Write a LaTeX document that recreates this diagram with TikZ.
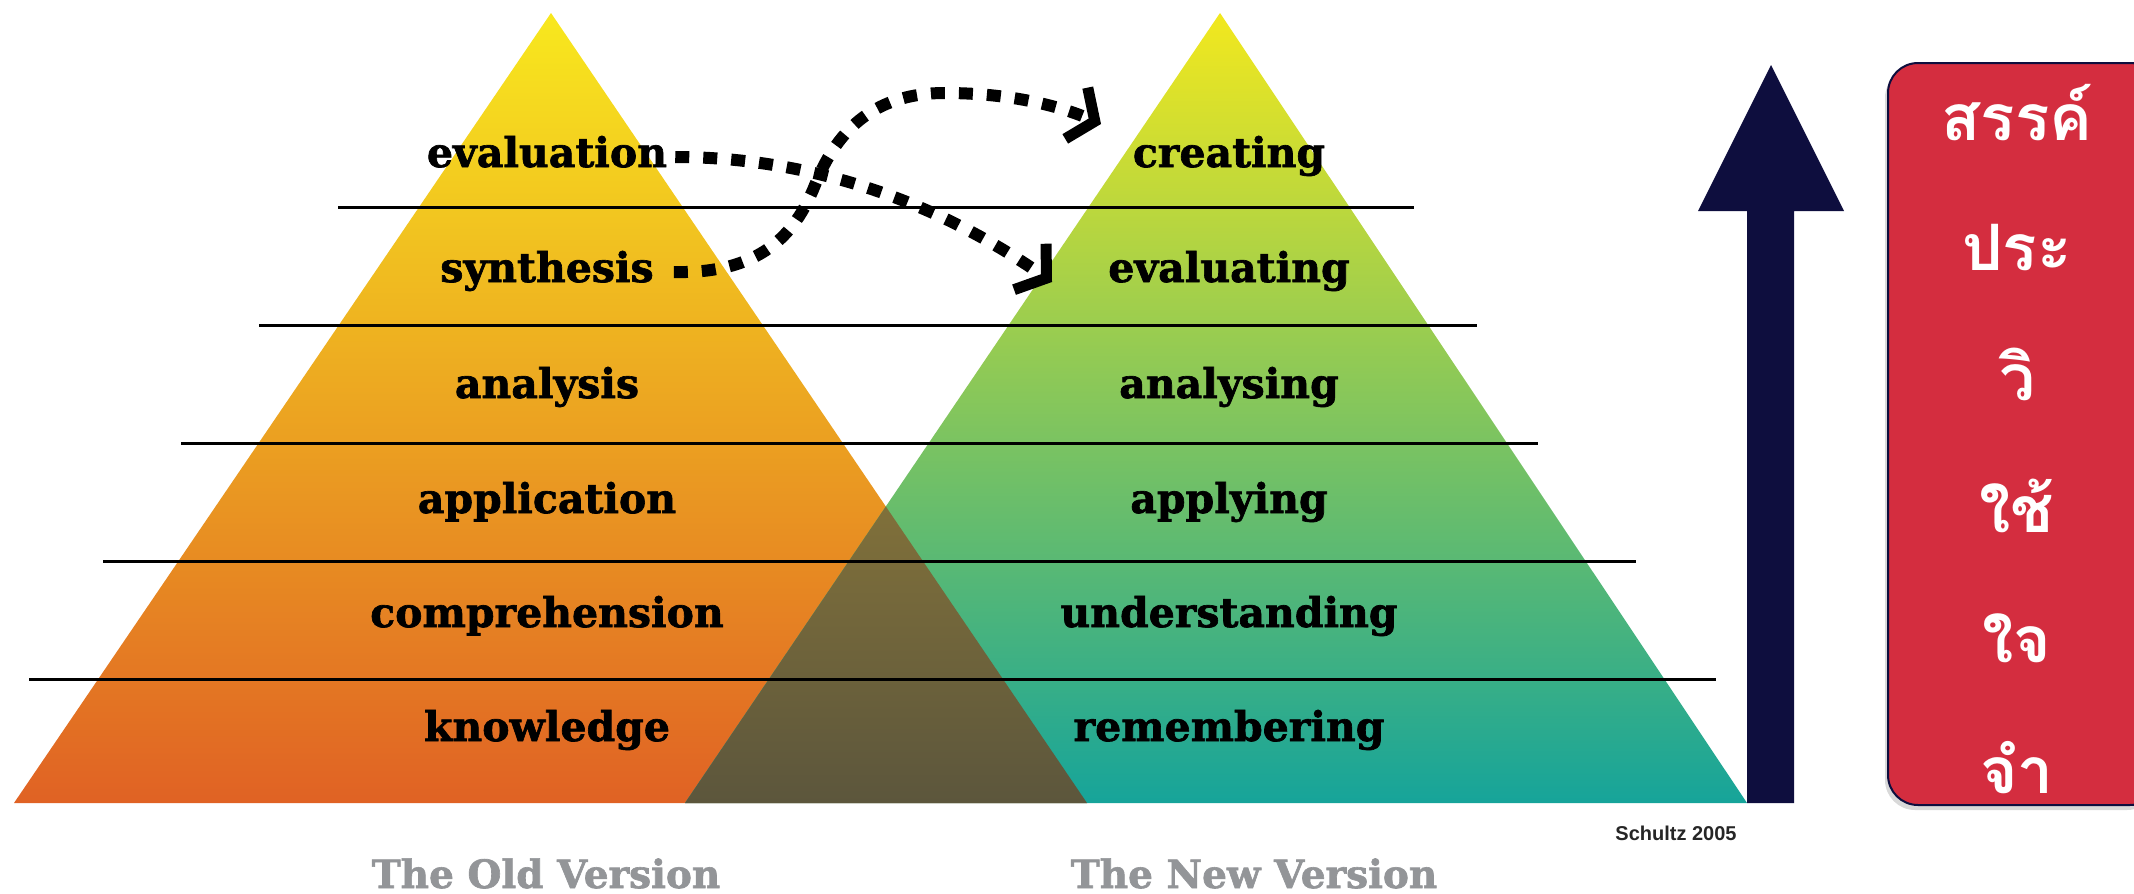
\documentclass[tikz,border=0pt]{standalone}
\usepackage{fontspec}
\usetikzlibrary{arrows.meta,calc,shadows}
\newfontfamily\slabfont[BoldFeatures={FakeBold=1.6}]{DejaVu Serif}
\newfontfamily\thaifont[Script=Thai]{Loma}
\newfontfamily\credfont{Liberation Sans}
\definecolor{oldTop}{RGB}{248,232,30}
\definecolor{oldMid}{RGB}{238,170,40}
\definecolor{oldBot}{RGB}{224,98,36}
\definecolor{newTop}{RGB}{242,232,30}
\definecolor{newMid}{RGB}{160,200,105}
\definecolor{newBot}{RGB}{22,164,154}
\definecolor{ovTop}{RGB}{128,112,58}
\definecolor{ovBot}{RGB}{92,86,60}
\definecolor{navyArrow}{RGB}{14,14,62}
\definecolor{boxRed}{RGB}{212,45,63}
\definecolor{capGrey}{RGB}{147,149,152}
\tikzset{
  hline/.style={line width=3pt, black},
  lbl/.style={font=\slabfont\bfseries\fontsize{41}{48}\selectfont, text=black, anchor=base, inner sep=0pt},
  captionlbl/.style={font=\slabfont\bfseries\fontsize{39}{44}\selectfont, text=capGrey, anchor=base, inner sep=0pt},
  credit/.style={font=\credfont\bfseries\fontsize{20}{24}\selectfont, text=black!85, anchor=base, inner sep=0pt},
  dasharrow/.style={line width=12pt, dash pattern=on 14pt off 14pt, -{Straight Barb[length=20pt,width=56pt,line width=11pt]}},
  thai/.style={font=\thaifont\bfseries\fontsize{64}{70}\selectfont, text=white, anchor=base, inner sep=0pt},
  redbox/.style={fill=boxRed, draw=navyArrow, line width=2pt, rounded corners=30pt,
    drop shadow={shadow xshift=-3pt, shadow yshift=-5pt, opacity=0.3}},
}
\begin{document}
\begin{tikzpicture}[x=1pt,y=-1pt]
\useasboundingbox (0,0) rectangle (2134,894);
% pyramids
\shade[top color=oldTop, middle color=oldMid, bottom color=oldBot] (551,13) -- (1087,803) -- (14,803) -- cycle;
\shade[top color=newTop, middle color=newMid, bottom color=newBot] (1220,13) -- (1747,803) -- (685,803) -- cycle;
\shade[top color=ovTop, bottom color=ovBot]
  (intersection of 551,13--1087,803 and 1220,13--685,803) -- (1087,803) -- (685,803) -- cycle;
% level lines
\draw[hline] (338,207) -- (1414,207);
\draw[hline] (259,325) -- (1477,325);
\draw[hline] (181,443) -- (1538,443);
\draw[hline] (103,561) -- (1636,561);
\draw[hline] (29,679) -- (1716,679);
% old labels
\node[lbl] (evaluation) at (547,167) {evaluation};
\node[lbl] (synthesis) at (547,282) {synthesis};
\node[lbl] (analysis) at (547,398) {analysis};
\node[lbl] (application) at (547,513) {application};
\node[lbl] (comprehension) at (547,627) {comprehension};
\node[lbl] (knowledge) at (547,741) {knowledge};
% new labels
\node[lbl] (creating) at (1229,167) {creating};
\node[lbl] (evaluating) at (1229,282) {evaluating};
\node[lbl] (analysing) at (1229,398) {analysing};
\node[lbl] (applying) at (1229,513) {applying};
\node[lbl] (understanding) at (1229,627) {understanding};
\node[lbl] (remembering) at (1229,741) {remembering};
% captions
\node[captionlbl] (oldv) at (546,888) {The Old Version};
\node[captionlbl] (newv) at (1254,888) {The New Version};
\node[credit] (schultz) at (1676,840) {Schultz 2005};
% dotted arrows
\coordinate (evalEnd) at (1052,282);
\coordinate (synEnd) at (1101,124);
\draw[dasharrow] ($(evaluation.base east)+(8,-10)$) .. controls (790,157) and (920,190) .. (evalEnd);
\draw[dasharrow] ($(synthesis.base east)+(20,-10)$) .. controls (760,274) and (795,235) .. (815,185)
   .. controls (835,135) and (870,93) .. (945,93) .. controls (1010,93) and (1060,106) .. (synEnd);
% big arrow
\fill[navyArrow] (1747,803) -- (1747,211) -- (1698,211) -- (1771,65) -- (1844,211) -- (1794,211) -- (1794,803) -- cycle;
% red box
\begin{scope}
\clip (0,0) rectangle (2134,894);
\path[redbox] (1888,63) rectangle (2160,805);
\end{scope}
\node[thai] (t1) at (2017,140) {สรรค์};
\node[thai] (t2) at (2017,270) {ประ};
\node[thai] (t3) at (2017,400) {วิ};
\node[thai] (t4) at (2017,532) {ใช้};
\node[thai] (t5) at (2017,662) {ใจ};
\node[thai] (t6) at (2017,793) {จำ};
\end{tikzpicture}
\end{document}
